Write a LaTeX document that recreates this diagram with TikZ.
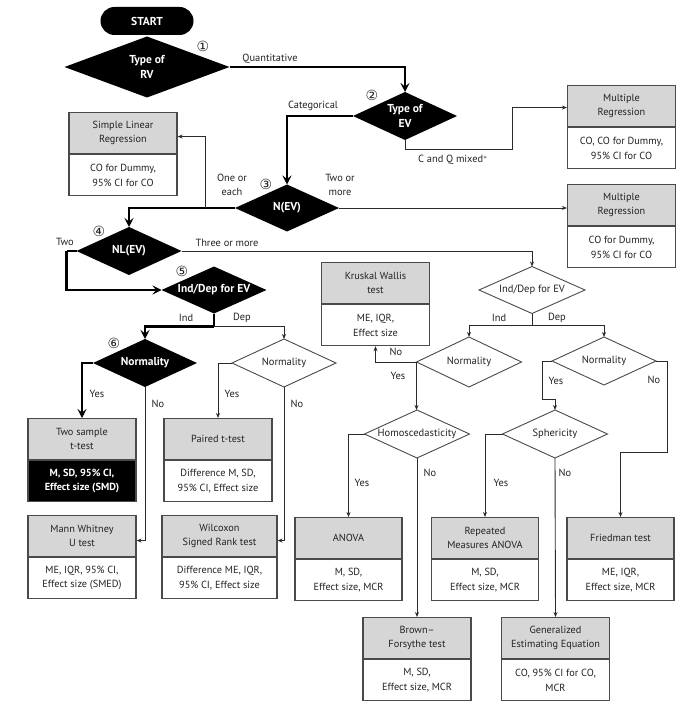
\documentclass[tikz,border=0pt]{standalone}
\usepackage{fontspec}
\setmainfont{PT Sans}
\newfontfamily\symfont{DejaVu Sans}
\usetikzlibrary{arrows.meta,calc}
\definecolor{hdrgray}{HTML}{D6D6D6}
\definecolor{bordercol}{HTML}{4A4A4A}
\definecolor{linecol}{HTML}{2A2A2A}
\definecolor{txtcol}{HTML}{222222}
\newcommand{\blackdia}[6]{%
  \node[diabox,minimum width=#4,minimum height=#5] (#1) at (#2,#3) {};
  \fill[black] (#1.west)--(#1.north)--(#1.east)--(#1.south)--cycle;
  \node[diatextb] (#1t) at (#1) {#6};}
\newcommand{\whitedia}[6]{%
  \node[diabox,minimum width=#4,minimum height=#5] (#1) at (#2,#3) {};
  \filldraw[fill=white,draw=bordercol,line width=0.9pt] (#1.west)--(#1.north)--(#1.east)--(#1.south)--cycle;
  \node[diatext] (#1t) at (#1) {#6};}
\newcommand{\resbox}[6]{%
  \node[hdr,minimum width=#4,anchor=north] (#1h) at (#2,#3) {#5};
  \node[bdy,minimum width=#4,anchor=north] (#1) at (#1h.south) {#6};}
\begin{document}
\begin{tikzpicture}[x=1pt,y=-1pt,
  hdr/.style={draw=bordercol,fill=hdrgray,line width=1.1pt,minimum height=41pt,inner sep=1pt,align=center,text=txtcol,font=\fontsize{10.3}{14.5}\selectfont},
  bdy/.style={hdr,fill=white},
  diabox/.style={inner sep=0pt,outer sep=0pt},
  diatextb/.style={text=white,align=center,inner sep=0pt,font=\bfseries\fontsize{11.5}{15}\selectfont},
  diatext/.style={text=txtcol,align=center,inner sep=0pt,font=\fontsize{10.5}{14}\selectfont},
  lbl/.style={text=txtcol,align=center,inner sep=0pt,font=\fontsize{10.4}{14}\selectfont},
  numc/.style={text=txtcol,inner sep=0pt,font=\symfont\fontsize{14}{14}\selectfont},
  heavy/.style={draw=black,line width=2.6pt,-{Stealth[length=9pt,width=9pt,inset=3.5pt]}},
  heavyplain/.style={draw=black,line width=2.6pt},
  thinarr/.style={draw=linecol,line width=0.9pt,-{Stealth[length=5pt,width=4pt]}},
  thinplain/.style={draw=linecol,line width=0.9pt}]
\useasboundingbox (0,0) rectangle (690,708);
\fill[white] (0,0) rectangle (690,708);

% start
\node[fill=black,rounded corners=14pt,minimum width=93pt,minimum height=28pt,inner sep=0pt,text=white,font=\bfseries\fontsize{11.5}{14}\selectfont] (start) at (147,21) {START};

% diamonds
\blackdia{rv}{147}{67}{165}{61}{Type of\\RV}
\blackdia{ev}{405}{116}{104}{48}{Type of\\EV}
\blackdia{nev}{287}{208}{104}{47}{N(EV)}
\blackdia{nl}{129}{251}{105}{48}{NL(EV)}
\blackdia{idp}{214}{290}{105}{47}{Ind/Dep for EV}
\blackdia{nm1}{145}{363}{104}{48}{Normality}
\whitedia{nm2}{284}{363}{104}{48}{Normality}
\whitedia{idq}{532}{290}{106}{47}{Ind/Dep for EV}
\whitedia{nm3}{469}{362}{105}{50}{Normality}
\whitedia{nm4}{604}{361}{104}{48}{Normality}
\whitedia{homo}{417}{434}{105}{48}{Homoscedasticity}
\whitedia{sph}{555}{434}{105}{48}{Sphericity}

% result boxes
\resbox{slr}{123}{112}{108}{Simple Linear\\Regression}{CO for Dummy,\\95\% CI for CO}
\resbox{mra}{621.5}{85}{108}{Multiple\\Regression}{CO, CO for Dummy,\\95\% CI for CO}
\resbox{mrb}{621.5}{184}{108}{Multiple\\Regression}{CO for Dummy,\\95\% CI for CO}
\resbox{kw}{375.5}{262}{108}{Kruskal Wallis\\test}{ME, IQR,\\Effect size}
\node[hdr,minimum width=108,anchor=north] (tsth) at (82,418) {Two sample\\t-test};
\node[bdy,minimum width=108,anchor=north,fill=black,text=white,font=\bfseries\fontsize{10.3}{14.5}\selectfont] (tst) at (tsth.south) {M, SD, 95\% CI,\\Effect size (SMD)};
\resbox{pt}{218}{418}{108}{Paired t-test}{Difference M, SD,\\95\% CI, Effect size}
\resbox{mw}{82}{515}{108}{Mann Whitney\\U test}{ME, IQR, 95\% CI,\\Effect size (SMED)}
\resbox{wx}{219.5}{515}{115}{Wilcoxon\\Signed Rank test}{Difference ME, IQR,\\95\% CI, Effect size}
\resbox{an}{348.5}{517}{107}{ANOVA}{M, SD,\\Effect size, MCR}
\resbox{rm}{485}{517}{107}{Repeated\\Measures ANOVA}{M, SD,\\Effect size, MCR}
\resbox{fr}{620.5}{517}{107}{Friedman test}{ME, IQR,\\Effect size, MCR}
\resbox{bf}{417}{617}{108}{Brown--\\Forsythe test}{M, SD,\\Effect size, MCR}
\resbox{gee}{555.5}{617}{108}{Generalized\\Estimating Equation}{CO, 95\% CI for CO,\\MCR}

% circled numbers
\node[numc] (c1) at (203,46) {①};
\node[numc] (c2) at (372,95) {②};
\node[numc] (c3) at (266,184) {③};
\node[numc] (c4) at (99,231) {④};
\node[numc] (c5) at (182,271) {⑤};
\node[numc] (c6) at (114,343) {⑥};

% connectors
\draw[heavy] (rv.east) -| (ev.north);
\draw[heavy] (ev.west) -| (nev.north);
\draw[thinarr] (ev.south) -- ++(0,9) -| ([xshift=-55pt,yshift=-1.5pt]mrah.west) -- ([yshift=-1.5pt]mrah.west);
\draw[heavy] (nev.west) -| (nl.north);
\coordinate (br1) at (205,208);
\draw[thinarr] (br1) |- ([yshift=-3.5pt]slrh.east);
\draw[thinarr] (nev.east) -- (nev.east -| mrbh.west);
\draw[heavyplain] (nl.west) -- ++(-10,0) coordinate (tw1);
\draw[heavy] (tw1) |- (idp.west);
\draw[thinarr] (nl.east) -| (idq.north);
\draw[heavyplain] (idp.south) -- ++(0,13) coordinate (sp1);
\draw[heavy] (sp1) -| (nm1.north);
\draw[thinarr] (sp1) -| (nm2.north);
\draw[heavy] (nm1.west) -| (tsth.north);
\draw[thinarr] (nm1.south) |- ([yshift=-4.5pt]mwh.east);
\draw[thinarr] (nm2.west) -| (pth.north);
\draw[thinarr] (nm2.south) |- ([yshift=-4.5pt]wxh.east);
\draw[thinplain] (idq.south) -- ++(0,12) coordinate (sp2);
\draw[thinarr] (sp2) -| (nm3.north);
\draw[thinarr] (sp2) -| (nm4.north);
\draw[thinarr] (nm3.west) -| (kw.south);
\draw[thinarr] (nm3.west) -- (nm3.west |- homo.north);
\draw[thinarr] (nm4.west) -- ++(-10,0) -- ++(0,38) -| (sph.north);
\draw[thinarr] (nm4.east) -- ++(11,0) -- ++(0,91) -| (frh.north);
\draw[thinarr] (homo.west) -| (anh.north);
\draw[thinarr] (homo.south) -- (bfh.north);
\draw[thinarr] (sph.west) -| (rmh.north);
\draw[thinarr] (sph.south) -- (geeh.north);

% labels
\node[lbl] (l1) at (270,59) {Quantitative};
\node[lbl] (l2) at (313,106) {Categorical};
\node[lbl] (l3) at (453,160) {C and Q mixed$^{*}$};
\node[lbl] (l4) at (232,185) {One or\\each};
\node[lbl] (l5) at (340,185) {Two or\\more};
\node[lbl] (l6) at (65,242) {Two};
\node[lbl] (l7) at (227,243) {Three or more};
\node[lbl] (l8) at (186,318) {Ind};
\node[lbl] (l9) at (242,318) {Dep};
\node[lbl] (l10) at (97,394) {Yes};
\node[lbl] (l11) at (158,404) {No};
\node[lbl] (l12) at (232,394) {Yes};
\node[lbl] (l13) at (297,404) {No};
\node[lbl] (l14) at (499,318) {Ind};
\node[lbl] (l15) at (557,318) {Dep};
\node[lbl] (l16) at (396,352) {No};
\node[lbl] (l17) at (398,376) {Yes};
\node[lbl] (l18) at (556,381) {Yes};
\node[lbl] (l19) at (654,380) {No};
\node[lbl] (l20) at (362,483) {Yes};
\node[lbl] (l21) at (430,473) {No};
\node[lbl] (l22) at (501,483) {Yes};
\node[lbl] (l23) at (565,473) {No};
\end{tikzpicture}
\end{document}
